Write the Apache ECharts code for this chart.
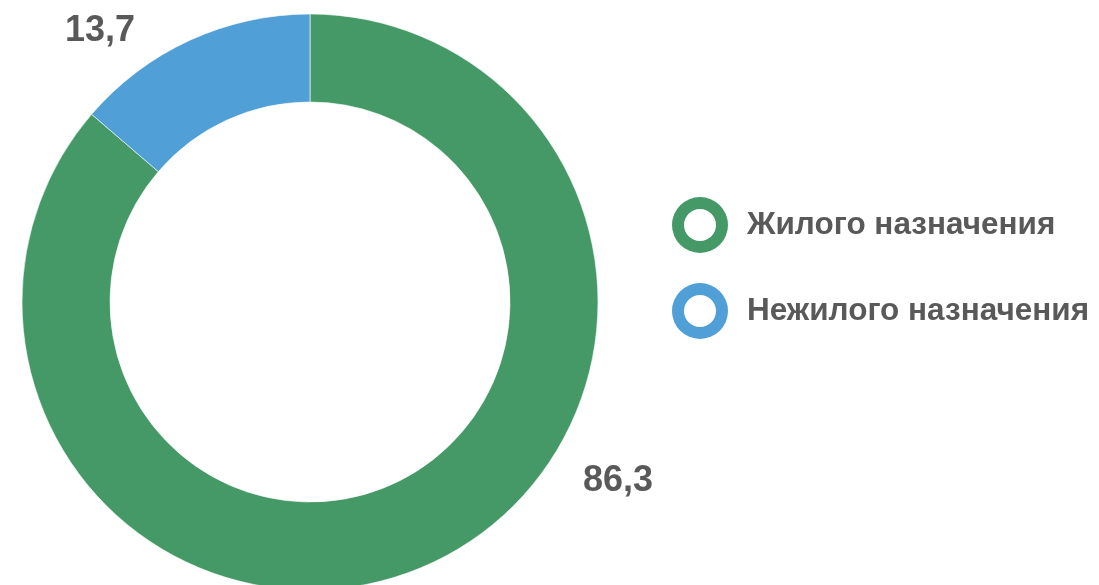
<!DOCTYPE html>
<html>
<head>
<meta charset="utf-8">
<script src="https://cdn.jsdelivr.net/npm/echarts@6/dist/echarts.min.js"></script>
<style>
  html, body { margin: 0; padding: 0; background: #fff; }
  #echarts { width: 1099px; height: 585px; }
</style>
</head>
<body>
<div id="echarts"></div>
<script>
var categories = ['Жилого назначения', 'Нежилого назначения'];
var values = [86.3, 13.7];
var colors = ['#449966', '#509fd6'];
// where Excel put the data labels
var labelSpots = [[618, 481], [100, 31]];

// ring-shaped legend marker (outer r 28, inner r 16)
var ringIcon = 'path://M28,0 A28,28 0 1,1 28,56 A28,28 0 1,1 28,0 Z ' +
    'M28,12 A16,16 0 1,0 28,44 A16,16 0 1,0 28,12 Z';

var myChart = echarts.init(document.getElementById('echarts'));

var pieData = [];
for (var i = 0; i < categories.length; i++) {
    pieData.push({
        name: categories[i],
        value: values[i],
        itemStyle: { color: colors[i] }
    });
}

var option = {
    animation: false,
    textStyle: { fontFamily: 'Liberation Sans, Arial, sans-serif' },
    legend: {
        data: categories,
        icon: ringIcon,
        orient: 'vertical',
        left: 672,
        top: 197,
        padding: 0,
        itemWidth: 56,
        itemHeight: 56,
        itemGap: 30,
        itemStyle: { borderWidth: 0 },
        textStyle: {
            color: '#595959',
            fontSize: 31.5,
            fontWeight: 'bold',
            padding: [0, 0, 12, 14]
        }
    },
    series: [{
        type: 'pie',
        center: [310, 302],
        radius: [200, 288],
        startAngle: 90,
        clockwise: true,
        itemStyle: { borderColor: '#fff', borderWidth: 0.6 },
        label: {
            show: true,
            position: 'outside',
            color: '#595959',
            fontSize: 36,
            fontWeight: 'bold',
            formatter: function (p) {
                return String(p.value).replace('.', ',');
            }
        },
        labelLine: { show: false },
        labelLayout: function (params) {
            var s = labelSpots[params.dataIndex];
            return { x: s[0], y: s[1], align: 'center', verticalAlign: 'middle' };
        },
        emphasis: { disabled: true },
        data: pieData
    }]
};
myChart.setOption(option);
</script>
</body>
</html>
